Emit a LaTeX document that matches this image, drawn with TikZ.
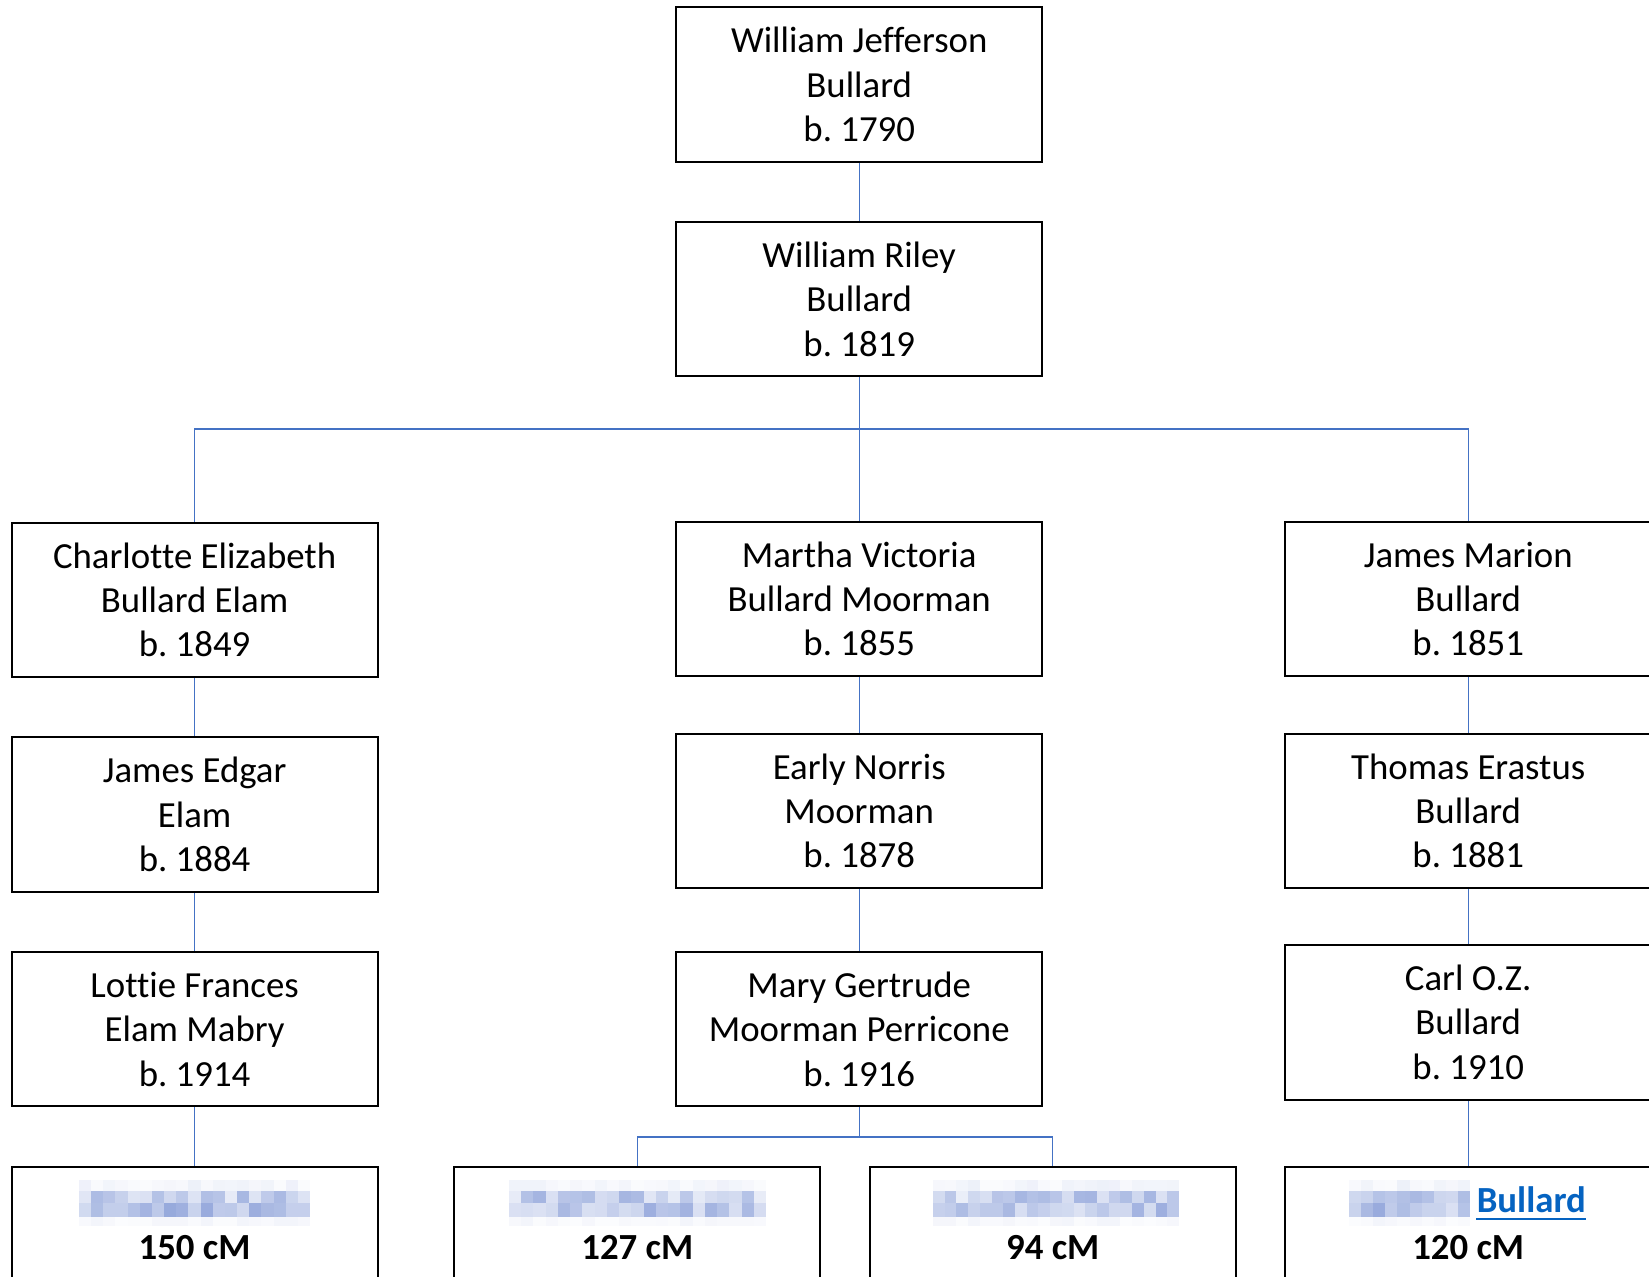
\documentclass[tikz,border=0pt]{standalone}
\usepackage{fontspec}
\setmainfont{Carlito}[Ligatures=CommonOff]
\definecolor{wireblue}{HTML}{4472C4}
\definecolor{hlink}{HTML}{0563C1}
\definecolor{blur}{HTML}{8A9FD8}

% three centred lines; the taller top rule sits the middle line on the box centre
\newcommand\threelines[3]{\rule{0pt}{19.2pt}#1\\#2\\#3\strut}

% pixelated (obscured) name: a band of light blue cells
\newcommand\mosaic[3]{%
  \pgfmathsetmacro\mwid{#2-#1}%
  \pgfmathtruncatemacro\mcnt{round(\mwid/12)}%
  \pgfmathsetmacro\mcell{\mwid/\mcnt}%
  \foreach \i in {1,...,\mcnt}{%
    \pgfmathsetmacro\mxa{#1+(\i-1)*\mcell}%
    \pgfmathsetmacro\mxb{#1+\i*\mcell}%
    \pgfmathtruncatemacro\pa{4+12*rnd}%
    \pgfmathtruncatemacro\pb{18+60*rnd}%
    \pgfmathtruncatemacro\pc{30+60*rnd}%
    \pgfmathtruncatemacro\pd{3+8*rnd}%
    \fill[blur!\pa!white] (\mxa,#3-23) rectangle (\mxb,#3-12);
    \fill[blur!\pb!white] (\mxa,#3-12) rectangle (\mxb,#3);
    \fill[blur!\pc!white] (\mxa,#3) rectangle (\mxb,#3+14);
    \fill[blur!\pd!white] (\mxa,#3+14) rectangle (\mxb,#3+23);
  }%
}

\begin{document}
\frenchspacing
\begin{tikzpicture}[x=0.5pt,y=-0.5pt,
  person/.style={draw=black, line width=1pt, fill=white, rectangle,
    minimum width=183pt, minimum height=77.3pt, inner sep=0pt,
    align=center, font=\fontsize{18.4}{22.2}\selectfont},
  kin/.style={person},
  wire/.style={draw=wireblue, line width=0.7pt},
  cmtext/.style={font=\bfseries\fontsize{18.4}{22.2}\selectfont,
    inner sep=0pt, anchor=base}]
\pgfmathsetseed{7}
\clip (0,0) rectangle (1649,1277);
\fill[white] (0,0) rectangle (1649,1277);

% bus points
\coordinate (bus) at (859.2,429.1);
\coordinate (bus2) at (859.2,1136.9);

% connectors (drawn first, boxes cover their ends)
\path[wire] (194.6,600) |- (bus) -| (1468.2,600);
\path[wire] (859.2,84.7) -- (859.2,1136.9);
\path[wire] (194.6,600) -- (194.6,1244.7);
\path[wire] (1468.2,600) -- (1468.2,1244.7);
\path[wire] (637.3,1244.7) |- (bus2) -| (1052.7,1244.7);

% ancestors
\node[person] (wj) at (859.2,84.7) {\threelines{William Jefferson}{Bullard}{b. 1790}};
\node[person] (wr) at (859.2,299.2) {\threelines{William Riley}{Bullard}{b. 1819}};

% children of William Riley
\node[person] (ce) at (194.6,600) {\threelines{Charlotte Elizabeth}{Bullard Elam}{b. 1849}};
\node[person] (mv) at (859.2,598.9) {\threelines{Martha Victoria}{Bullard Moorman}{b. 1855}};
\node[person] (jm) at (1468.2,598.9) {\threelines{James Marion}{Bullard}{b. 1851}};

% grandchildren
\node[person] (je) at (194.6,814.5) {\threelines{James Edgar}{Elam}{b. 1884}};
\node[person] (en) at (859.2,810.9) {\threelines{Early Norris}{Moorman}{b. 1878}};
\node[person] (te) at (1468.2,810.9) {\threelines{Thomas Erastus}{Bullard}{b. 1881}};

% great-grandchildren
\node[person] (lf) at (194.6,1029.1) {\threelines{Lottie Frances}{Elam Mabry}{b. 1914}};
\node[person] (mg) at (859.2,1029.1) {\threelines{Mary Gertrude}{Moorman Perricone}{b. 1916}};
\node[person] (co) at (1468.2,1022.3) {\threelines{Carl O.Z.}{Bullard}{b. 1910}};

% DNA matches
\node[kin] (k1) at (194.6,1244.7) {};
\node[kin] (k2) at (637.3,1244.7) {};
\node[kin] (k3) at (1052.7,1244.7) {};
\node[kin] (k4) at (1468.2,1244.7) {};

\mosaic{79}{310}{1203}
\mosaic{509}{766}{1203}
\mosaic{933}{1179}{1203}
\mosaic{1349}{1470}{1203}

\node[cmtext, text=hlink] (bl) at (1531.3,1212) {Bullard};
\draw[hlink, line width=0.8pt] ([yshift=-3.5pt]bl.base west) -- ([yshift=-3.5pt]bl.base east);

\node[cmtext] (c1) at ([yshift=-46.3pt]k1.north) {150 cM};
\node[cmtext] (c2) at ([yshift=-46.3pt]k2.north) {127 cM};
\node[cmtext] (c3) at ([yshift=-46.3pt]k3.north) {94 cM};
\node[cmtext] (c4) at ([yshift=-46.3pt]k4.north) {120 cM};
\end{tikzpicture}
\end{document}
